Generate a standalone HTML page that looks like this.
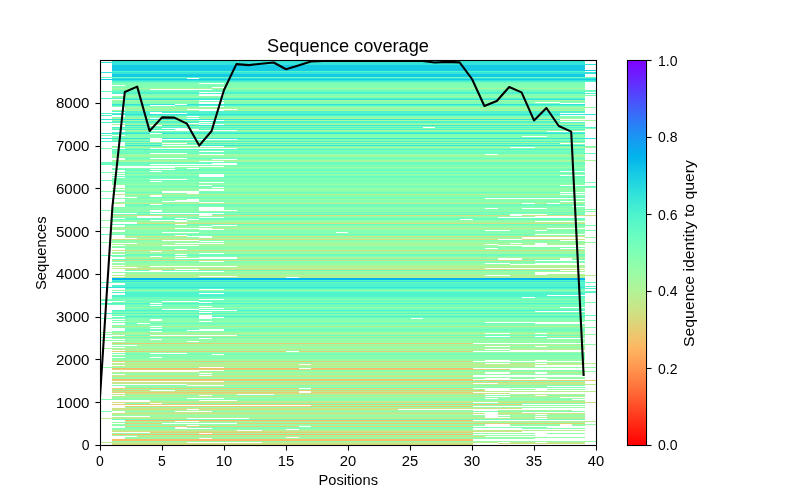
<!DOCTYPE html>
<html><head><meta charset="utf-8"><title>Sequence coverage</title>
<style>
html,body{margin:0;padding:0;background:#fff;}
body{width:800px;height:500px;overflow:hidden;}
svg{display:block;}
text{font-family:"Liberation Sans",sans-serif;fill:#000;}
</style></head><body>
<svg width="800" height="500" viewBox="0 0 800 500">
<rect x="0" y="0" width="800" height="500" fill="#fff"/>
<g shape-rendering="crispEdges">
<rect x="112" y="61" width="473" height="1" fill="#34e4d9"/>
<rect x="100" y="62" width="485" height="1" fill="#34e4d9"/>
<rect x="112" y="63" width="473" height="1" fill="#34e4d9"/>
<rect x="112" y="64" width="485" height="1" fill="#34e4d9"/>
<rect x="112" y="65" width="473" height="1" fill="#14cae5"/>
<rect x="112" y="66" width="473" height="1" fill="#14cae5"/>
<rect x="112" y="67" width="473" height="1" fill="#14cae5"/>
<rect x="112" y="68" width="473" height="1" fill="#14cae5"/>
<rect x="112" y="69" width="473" height="1" fill="#14cae5"/>
<rect x="112" y="70" width="485" height="1" fill="#14cae5"/>
<rect x="112" y="71" width="473" height="1" fill="#50f4cc"/>
<rect x="100" y="72" width="497" height="1" fill="#34e4d9"/>
<rect x="112" y="73" width="485" height="1" fill="#34e4d9"/>
<rect x="112" y="74" width="473" height="1" fill="#14cae5"/>
<rect x="112" y="75" width="473" height="1" fill="#14cae5"/>
<rect x="112" y="76" width="473" height="1" fill="#14cae5"/>
<rect x="100" y="77" width="497" height="1" fill="#6bfdc0"/>
<rect x="112" y="78" width="75" height="1" fill="#34e4d9"/>
<rect x="199" y="78" width="398" height="1" fill="#34e4d9"/>
<rect x="100" y="79" width="497" height="1" fill="#14cae5"/>
<rect x="112" y="80" width="485" height="1" fill="#34e4d9"/>
<rect x="112" y="81" width="485" height="1" fill="#50f4cc"/>
<rect x="112" y="82" width="473" height="1" fill="#6bfdc0"/>
<rect x="112" y="83" width="87" height="1" fill="#82ffb3"/>
<rect x="224" y="83" width="361" height="1" fill="#82ffb3"/>
<rect x="112" y="84" width="473" height="1" fill="#82ffb3"/>
<rect x="125" y="85" width="460" height="1" fill="#82ffb3"/>
<rect x="112" y="86" width="473" height="1" fill="#82ffb3"/>
<rect x="112" y="87" width="100" height="1" fill="#82ffb3"/>
<rect x="224" y="87" width="361" height="1" fill="#82ffb3"/>
<rect x="112" y="88" width="473" height="1" fill="#a8f79c"/>
<rect x="112" y="89" width="38" height="1" fill="#82ffb3"/>
<rect x="212" y="89" width="373" height="1" fill="#82ffb3"/>
<rect x="112" y="90" width="485" height="1" fill="#6bfdc0"/>
<rect x="100" y="91" width="497" height="1" fill="#6bfdc0"/>
<rect x="112" y="92" width="87" height="1" fill="#50f4cc"/>
<rect x="224" y="92" width="361" height="1" fill="#50f4cc"/>
<rect x="112" y="93" width="485" height="1" fill="#50f4cc"/>
<rect x="125" y="94" width="74" height="1" fill="#82ffb3"/>
<rect x="224" y="94" width="361" height="1" fill="#82ffb3"/>
<rect x="125" y="95" width="74" height="1" fill="#82ffb3"/>
<rect x="224" y="95" width="373" height="1" fill="#82ffb3"/>
<rect x="112" y="96" width="473" height="1" fill="#95fda8"/>
<rect x="112" y="97" width="473" height="1" fill="#82ffb3"/>
<rect x="100" y="98" width="485" height="1" fill="#50f4cc"/>
<rect x="125" y="99" width="460" height="1" fill="#34e4d9"/>
<rect x="112" y="100" width="87" height="1" fill="#a8f79c"/>
<rect x="224" y="100" width="361" height="1" fill="#a8f79c"/>
<rect x="112" y="101" width="473" height="1" fill="#82ffb3"/>
<rect x="112" y="102" width="87" height="1" fill="#82ffb3"/>
<rect x="224" y="102" width="311" height="1" fill="#82ffb3"/>
<rect x="560" y="102" width="25" height="1" fill="#82ffb3"/>
<rect x="112" y="103" width="87" height="1" fill="#82ffb3"/>
<rect x="224" y="103" width="336" height="1" fill="#82ffb3"/>
<rect x="112" y="104" width="63" height="1" fill="#34e4d9"/>
<rect x="187" y="104" width="398" height="1" fill="#34e4d9"/>
<rect x="112" y="105" width="38" height="1" fill="#50f4cc"/>
<rect x="175" y="105" width="410" height="1" fill="#50f4cc"/>
<rect x="112" y="106" width="87" height="1" fill="#82ffb3"/>
<rect x="224" y="106" width="361" height="1" fill="#82ffb3"/>
<rect x="125" y="107" width="472" height="1" fill="#95fda8"/>
<rect x="125" y="108" width="460" height="1" fill="#a8f79c"/>
<rect x="125" y="109" width="62" height="1" fill="#82ffb3"/>
<rect x="237" y="109" width="348" height="1" fill="#82ffb3"/>
<rect x="112" y="110" width="87" height="1" fill="#a8f79c"/>
<rect x="224" y="110" width="361" height="1" fill="#a8f79c"/>
<rect x="112" y="111" width="473" height="1" fill="#50f4cc"/>
<rect x="125" y="112" width="25" height="1" fill="#50f4cc"/>
<rect x="162" y="112" width="423" height="1" fill="#50f4cc"/>
<rect x="100" y="113" width="50" height="1" fill="#50f4cc"/>
<rect x="187" y="113" width="373" height="1" fill="#50f4cc"/>
<rect x="112" y="114" width="485" height="1" fill="#34e4d9"/>
<rect x="100" y="115" width="12" height="1" fill="#50f4cc"/>
<rect x="125" y="115" width="435" height="1" fill="#50f4cc"/>
<rect x="125" y="116" width="62" height="1" fill="#82ffb3"/>
<rect x="199" y="116" width="386" height="1" fill="#82ffb3"/>
<rect x="112" y="117" width="473" height="1" fill="#82ffb3"/>
<rect x="112" y="118" width="38" height="1" fill="#a8f79c"/>
<rect x="162" y="118" width="25" height="1" fill="#a8f79c"/>
<rect x="199" y="118" width="386" height="1" fill="#a8f79c"/>
<rect x="100" y="119" width="460" height="1" fill="#34e4d9"/>
<rect x="112" y="120" width="87" height="1" fill="#a8f79c"/>
<rect x="224" y="120" width="373" height="1" fill="#a8f79c"/>
<rect x="112" y="121" width="448" height="1" fill="#50f4cc"/>
<rect x="100" y="122" width="99" height="1" fill="#50f4cc"/>
<rect x="212" y="122" width="373" height="1" fill="#50f4cc"/>
<rect x="125" y="123" width="62" height="1" fill="#82ffb3"/>
<rect x="199" y="123" width="386" height="1" fill="#82ffb3"/>
<rect x="112" y="124" width="87" height="1" fill="#a8f79c"/>
<rect x="224" y="124" width="361" height="1" fill="#a8f79c"/>
<rect x="125" y="125" width="25" height="1" fill="#34e4d9"/>
<rect x="162" y="125" width="423" height="1" fill="#34e4d9"/>
<rect x="125" y="126" width="460" height="1" fill="#82ffb3"/>
<rect x="112" y="127" width="311" height="1" fill="#50f4cc"/>
<rect x="435" y="127" width="162" height="1" fill="#50f4cc"/>
<rect x="112" y="128" width="50" height="1" fill="#82ffb3"/>
<rect x="187" y="128" width="410" height="1" fill="#82ffb3"/>
<rect x="112" y="129" width="63" height="1" fill="#50f4cc"/>
<rect x="199" y="129" width="386" height="1" fill="#50f4cc"/>
<rect x="125" y="130" width="25" height="1" fill="#a8f79c"/>
<rect x="237" y="130" width="348" height="1" fill="#a8f79c"/>
<rect x="125" y="131" width="422" height="1" fill="#82ffb3"/>
<rect x="112" y="132" width="473" height="1" fill="#50f4cc"/>
<rect x="100" y="133" width="50" height="1" fill="#34e4d9"/>
<rect x="162" y="133" width="423" height="1" fill="#34e4d9"/>
<rect x="112" y="134" width="473" height="1" fill="#82ffb3"/>
<rect x="100" y="135" width="12" height="1" fill="#82ffb3"/>
<rect x="125" y="135" width="460" height="1" fill="#82ffb3"/>
<rect x="112" y="136" width="410" height="1" fill="#82ffb3"/>
<rect x="547" y="136" width="38" height="1" fill="#82ffb3"/>
<rect x="112" y="137" width="473" height="1" fill="#82ffb3"/>
<rect x="100" y="138" width="50" height="1" fill="#34e4d9"/>
<rect x="162" y="138" width="435" height="1" fill="#34e4d9"/>
<rect x="112" y="139" width="38" height="1" fill="#82ffb3"/>
<rect x="237" y="139" width="348" height="1" fill="#82ffb3"/>
<rect x="112" y="140" width="38" height="1" fill="#82ffb3"/>
<rect x="162" y="140" width="423" height="1" fill="#82ffb3"/>
<rect x="100" y="141" width="50" height="1" fill="#50f4cc"/>
<rect x="162" y="141" width="423" height="1" fill="#50f4cc"/>
<rect x="125" y="142" width="460" height="1" fill="#a8f79c"/>
<rect x="125" y="143" width="37" height="1" fill="#50f4cc"/>
<rect x="187" y="143" width="373" height="1" fill="#50f4cc"/>
<rect x="125" y="144" width="460" height="1" fill="#82ffb3"/>
<rect x="125" y="145" width="37" height="1" fill="#34e4d9"/>
<rect x="199" y="145" width="386" height="1" fill="#34e4d9"/>
<rect x="112" y="146" width="87" height="1" fill="#82ffb3"/>
<rect x="224" y="146" width="373" height="1" fill="#82ffb3"/>
<rect x="112" y="147" width="398" height="1" fill="#a8f79c"/>
<rect x="535" y="147" width="62" height="1" fill="#a8f79c"/>
<rect x="100" y="148" width="12" height="1" fill="#82ffb3"/>
<rect x="125" y="148" width="25" height="1" fill="#82ffb3"/>
<rect x="237" y="148" width="348" height="1" fill="#82ffb3"/>
<rect x="112" y="149" width="473" height="1" fill="#50f4cc"/>
<rect x="112" y="150" width="473" height="1" fill="#82ffb3"/>
<rect x="112" y="151" width="87" height="1" fill="#6bfdc0"/>
<rect x="224" y="151" width="361" height="1" fill="#6bfdc0"/>
<rect x="112" y="152" width="473" height="1" fill="#6bfdc0"/>
<rect x="112" y="153" width="38" height="1" fill="#6bfdc0"/>
<rect x="187" y="153" width="410" height="1" fill="#6bfdc0"/>
<rect x="112" y="154" width="87" height="1" fill="#95fda8"/>
<rect x="224" y="154" width="261" height="1" fill="#95fda8"/>
<rect x="498" y="154" width="87" height="1" fill="#95fda8"/>
<rect x="112" y="155" width="473" height="1" fill="#a8f79c"/>
<rect x="112" y="156" width="473" height="1" fill="#95fda8"/>
<rect x="112" y="157" width="473" height="1" fill="#82ffb3"/>
<rect x="125" y="158" width="25" height="1" fill="#6bfdc0"/>
<rect x="187" y="158" width="398" height="1" fill="#6bfdc0"/>
<rect x="125" y="159" width="87" height="1" fill="#82ffb3"/>
<rect x="237" y="159" width="348" height="1" fill="#82ffb3"/>
<rect x="112" y="160" width="485" height="1" fill="#a8f79c"/>
<rect x="112" y="161" width="87" height="1" fill="#a8f79c"/>
<rect x="224" y="161" width="361" height="1" fill="#a8f79c"/>
<rect x="100" y="162" width="485" height="1" fill="#6bfdc0"/>
<rect x="100" y="163" width="112" height="1" fill="#6bfdc0"/>
<rect x="237" y="163" width="348" height="1" fill="#6bfdc0"/>
<rect x="100" y="164" width="50" height="1" fill="#6bfdc0"/>
<rect x="237" y="164" width="348" height="1" fill="#6bfdc0"/>
<rect x="112" y="165" width="473" height="1" fill="#82ffb3"/>
<rect x="224" y="166" width="361" height="1" fill="#82ffb3"/>
<rect x="175" y="167" width="410" height="1" fill="#95fda8"/>
<rect x="112" y="168" width="75" height="1" fill="#82ffb3"/>
<rect x="199" y="168" width="386" height="1" fill="#82ffb3"/>
<rect x="112" y="169" width="38" height="1" fill="#6bfdc0"/>
<rect x="175" y="169" width="410" height="1" fill="#6bfdc0"/>
<rect x="125" y="170" width="460" height="1" fill="#6bfdc0"/>
<rect x="125" y="171" width="25" height="1" fill="#82ffb3"/>
<rect x="162" y="171" width="398" height="1" fill="#82ffb3"/>
<rect x="100" y="172" width="485" height="1" fill="#82ffb3"/>
<rect x="125" y="173" width="460" height="1" fill="#6bfdc0"/>
<rect x="112" y="174" width="87" height="1" fill="#95fda8"/>
<rect x="224" y="174" width="361" height="1" fill="#95fda8"/>
<rect x="125" y="175" width="74" height="1" fill="#82ffb3"/>
<rect x="224" y="175" width="336" height="1" fill="#82ffb3"/>
<rect x="112" y="176" width="87" height="1" fill="#6bfdc0"/>
<rect x="224" y="176" width="361" height="1" fill="#6bfdc0"/>
<rect x="125" y="177" width="460" height="1" fill="#6bfdc0"/>
<rect x="112" y="178" width="473" height="1" fill="#82ffb3"/>
<rect x="112" y="179" width="38" height="1" fill="#82ffb3"/>
<rect x="187" y="179" width="398" height="1" fill="#82ffb3"/>
<rect x="100" y="180" width="485" height="1" fill="#6bfdc0"/>
<rect x="112" y="181" width="38" height="1" fill="#82ffb3"/>
<rect x="162" y="181" width="423" height="1" fill="#82ffb3"/>
<rect x="112" y="182" width="87" height="1" fill="#82ffb3"/>
<rect x="224" y="182" width="373" height="1" fill="#82ffb3"/>
<rect x="112" y="183" width="473" height="1" fill="#82ffb3"/>
<rect x="112" y="184" width="473" height="1" fill="#95fda8"/>
<rect x="125" y="185" width="74" height="1" fill="#82ffb3"/>
<rect x="212" y="185" width="348" height="1" fill="#82ffb3"/>
<rect x="125" y="186" width="472" height="1" fill="#6bfdc0"/>
<rect x="125" y="187" width="87" height="1" fill="#82ffb3"/>
<rect x="224" y="187" width="373" height="1" fill="#82ffb3"/>
<rect x="112" y="188" width="473" height="1" fill="#95fda8"/>
<rect x="125" y="189" width="74" height="1" fill="#95fda8"/>
<rect x="224" y="189" width="361" height="1" fill="#95fda8"/>
<rect x="112" y="190" width="87" height="1" fill="#95fda8"/>
<rect x="224" y="190" width="361" height="1" fill="#95fda8"/>
<rect x="100" y="191" width="62" height="1" fill="#82ffb3"/>
<rect x="199" y="191" width="386" height="1" fill="#82ffb3"/>
<rect x="125" y="192" width="37" height="1" fill="#6bfdc0"/>
<rect x="199" y="192" width="361" height="1" fill="#6bfdc0"/>
<rect x="125" y="193" width="62" height="1" fill="#82ffb3"/>
<rect x="199" y="193" width="386" height="1" fill="#82ffb3"/>
<rect x="112" y="194" width="448" height="1" fill="#bbee91"/>
<rect x="125" y="195" width="25" height="1" fill="#82ffb3"/>
<rect x="162" y="195" width="423" height="1" fill="#82ffb3"/>
<rect x="125" y="196" width="25" height="1" fill="#95fda8"/>
<rect x="162" y="196" width="423" height="1" fill="#95fda8"/>
<rect x="137" y="197" width="448" height="1" fill="#6bfdc0"/>
<rect x="100" y="198" width="385" height="1" fill="#82ffb3"/>
<rect x="125" y="199" width="62" height="1" fill="#95fda8"/>
<rect x="199" y="199" width="386" height="1" fill="#95fda8"/>
<rect x="125" y="200" width="50" height="1" fill="#82ffb3"/>
<rect x="199" y="200" width="386" height="1" fill="#82ffb3"/>
<rect x="125" y="201" width="37" height="1" fill="#82ffb3"/>
<rect x="199" y="201" width="361" height="1" fill="#82ffb3"/>
<rect x="112" y="202" width="87" height="1" fill="#95fda8"/>
<rect x="224" y="202" width="361" height="1" fill="#95fda8"/>
<rect x="112" y="203" width="410" height="1" fill="#bbee91"/>
<rect x="535" y="203" width="12" height="1" fill="#bbee91"/>
<rect x="560" y="203" width="25" height="1" fill="#bbee91"/>
<rect x="125" y="204" width="25" height="1" fill="#6bfdc0"/>
<rect x="162" y="204" width="423" height="1" fill="#6bfdc0"/>
<rect x="125" y="205" width="460" height="1" fill="#6bfdc0"/>
<rect x="125" y="206" width="447" height="1" fill="#82ffb3"/>
<rect x="112" y="207" width="87" height="1" fill="#82ffb3"/>
<rect x="224" y="207" width="361" height="1" fill="#82ffb3"/>
<rect x="112" y="208" width="87" height="1" fill="#95fda8"/>
<rect x="224" y="208" width="261" height="1" fill="#95fda8"/>
<rect x="498" y="208" width="24" height="1" fill="#95fda8"/>
<rect x="547" y="208" width="38" height="1" fill="#95fda8"/>
<rect x="112" y="209" width="87" height="1" fill="#82ffb3"/>
<rect x="224" y="209" width="373" height="1" fill="#82ffb3"/>
<rect x="100" y="210" width="50" height="1" fill="#82ffb3"/>
<rect x="162" y="210" width="37" height="1" fill="#82ffb3"/>
<rect x="237" y="210" width="348" height="1" fill="#82ffb3"/>
<rect x="112" y="211" width="38" height="1" fill="#95fda8"/>
<rect x="162" y="211" width="435" height="1" fill="#95fda8"/>
<rect x="112" y="212" width="473" height="1" fill="#6bfdc0"/>
<rect x="137" y="213" width="13" height="1" fill="#82ffb3"/>
<rect x="224" y="213" width="361" height="1" fill="#82ffb3"/>
<rect x="112" y="214" width="87" height="1" fill="#6bfdc0"/>
<rect x="212" y="214" width="298" height="1" fill="#6bfdc0"/>
<rect x="547" y="214" width="38" height="1" fill="#6bfdc0"/>
<rect x="112" y="215" width="87" height="1" fill="#d0e082"/>
<rect x="212" y="215" width="298" height="1" fill="#d0e082"/>
<rect x="522" y="215" width="75" height="1" fill="#d0e082"/>
<rect x="112" y="216" width="25" height="1" fill="#95fda8"/>
<rect x="162" y="216" width="373" height="1" fill="#95fda8"/>
<rect x="112" y="217" width="25" height="1" fill="#82ffb3"/>
<rect x="162" y="217" width="37" height="1" fill="#82ffb3"/>
<rect x="224" y="217" width="274" height="1" fill="#82ffb3"/>
<rect x="125" y="218" width="50" height="1" fill="#6bfdc0"/>
<rect x="187" y="218" width="398" height="1" fill="#6bfdc0"/>
<rect x="112" y="219" width="75" height="1" fill="#6bfdc0"/>
<rect x="199" y="219" width="261" height="1" fill="#6bfdc0"/>
<rect x="473" y="219" width="112" height="1" fill="#6bfdc0"/>
<rect x="100" y="220" width="50" height="1" fill="#95fda8"/>
<rect x="187" y="220" width="398" height="1" fill="#95fda8"/>
<rect x="112" y="221" width="63" height="1" fill="#95fda8"/>
<rect x="187" y="221" width="348" height="1" fill="#95fda8"/>
<rect x="137" y="222" width="448" height="1" fill="#a8f79c"/>
<rect x="137" y="223" width="448" height="1" fill="#d0e082"/>
<rect x="112" y="224" width="63" height="1" fill="#6bfdc0"/>
<rect x="187" y="224" width="398" height="1" fill="#6bfdc0"/>
<rect x="125" y="225" width="87" height="1" fill="#82ffb3"/>
<rect x="237" y="225" width="360" height="1" fill="#82ffb3"/>
<rect x="125" y="226" width="74" height="1" fill="#95fda8"/>
<rect x="212" y="226" width="373" height="1" fill="#95fda8"/>
<rect x="100" y="227" width="485" height="1" fill="#95fda8"/>
<rect x="112" y="228" width="63" height="1" fill="#bbee91"/>
<rect x="212" y="228" width="335" height="1" fill="#bbee91"/>
<rect x="112" y="229" width="87" height="1" fill="#95fda8"/>
<rect x="224" y="229" width="361" height="1" fill="#95fda8"/>
<rect x="125" y="230" width="360" height="1" fill="#82ffb3"/>
<rect x="510" y="230" width="25" height="1" fill="#82ffb3"/>
<rect x="547" y="230" width="50" height="1" fill="#82ffb3"/>
<rect x="125" y="231" width="460" height="1" fill="#82ffb3"/>
<rect x="112" y="232" width="50" height="1" fill="#82ffb3"/>
<rect x="199" y="232" width="137" height="1" fill="#82ffb3"/>
<rect x="348" y="232" width="237" height="1" fill="#82ffb3"/>
<rect x="112" y="233" width="473" height="1" fill="#95fda8"/>
<rect x="100" y="234" width="435" height="1" fill="#6bfdc0"/>
<rect x="125" y="235" width="50" height="1" fill="#82ffb3"/>
<rect x="187" y="235" width="398" height="1" fill="#82ffb3"/>
<rect x="125" y="236" width="62" height="1" fill="#d0e082"/>
<rect x="212" y="236" width="373" height="1" fill="#d0e082"/>
<rect x="125" y="237" width="74" height="1" fill="#95fda8"/>
<rect x="212" y="237" width="310" height="1" fill="#95fda8"/>
<rect x="585" y="237" width="12" height="1" fill="#95fda8"/>
<rect x="137" y="238" width="385" height="1" fill="#a8f79c"/>
<rect x="112" y="239" width="386" height="1" fill="#d0e082"/>
<rect x="522" y="239" width="63" height="1" fill="#d0e082"/>
<rect x="112" y="240" width="50" height="1" fill="#82ffb3"/>
<rect x="199" y="240" width="361" height="1" fill="#82ffb3"/>
<rect x="112" y="241" width="87" height="1" fill="#95fda8"/>
<rect x="224" y="241" width="361" height="1" fill="#95fda8"/>
<rect x="100" y="242" width="497" height="1" fill="#95fda8"/>
<rect x="137" y="243" width="38" height="1" fill="#a8f79c"/>
<rect x="224" y="243" width="286" height="1" fill="#a8f79c"/>
<rect x="522" y="243" width="13" height="1" fill="#a8f79c"/>
<rect x="547" y="243" width="38" height="1" fill="#a8f79c"/>
<rect x="112" y="244" width="373" height="1" fill="#a8f79c"/>
<rect x="498" y="244" width="37" height="1" fill="#a8f79c"/>
<rect x="547" y="244" width="38" height="1" fill="#a8f79c"/>
<rect x="125" y="245" width="37" height="1" fill="#a8f79c"/>
<rect x="199" y="245" width="299" height="1" fill="#a8f79c"/>
<rect x="112" y="246" width="410" height="1" fill="#95fda8"/>
<rect x="112" y="247" width="473" height="1" fill="#82ffb3"/>
<rect x="125" y="248" width="360" height="1" fill="#82ffb3"/>
<rect x="498" y="248" width="62" height="1" fill="#82ffb3"/>
<rect x="125" y="249" width="50" height="1" fill="#95fda8"/>
<rect x="187" y="249" width="398" height="1" fill="#95fda8"/>
<rect x="112" y="250" width="473" height="1" fill="#d0e082"/>
<rect x="125" y="251" width="25" height="1" fill="#95fda8"/>
<rect x="162" y="251" width="423" height="1" fill="#95fda8"/>
<rect x="112" y="252" width="473" height="1" fill="#95fda8"/>
<rect x="112" y="253" width="87" height="1" fill="#a8f79c"/>
<rect x="224" y="253" width="361" height="1" fill="#a8f79c"/>
<rect x="125" y="254" width="50" height="1" fill="#6bfdc0"/>
<rect x="187" y="254" width="398" height="1" fill="#6bfdc0"/>
<rect x="100" y="255" width="485" height="1" fill="#6bfdc0"/>
<rect x="112" y="256" width="38" height="1" fill="#82ffb3"/>
<rect x="162" y="256" width="13" height="1" fill="#82ffb3"/>
<rect x="187" y="256" width="398" height="1" fill="#82ffb3"/>
<rect x="125" y="257" width="74" height="1" fill="#a8f79c"/>
<rect x="237" y="257" width="348" height="1" fill="#a8f79c"/>
<rect x="125" y="258" width="50" height="1" fill="#bbee91"/>
<rect x="237" y="258" width="261" height="1" fill="#bbee91"/>
<rect x="522" y="258" width="38" height="1" fill="#bbee91"/>
<rect x="572" y="258" width="13" height="1" fill="#bbee91"/>
<rect x="112" y="259" width="386" height="1" fill="#6bfdc0"/>
<rect x="522" y="259" width="38" height="1" fill="#6bfdc0"/>
<rect x="572" y="259" width="13" height="1" fill="#6bfdc0"/>
<rect x="112" y="260" width="423" height="1" fill="#d0e082"/>
<rect x="112" y="261" width="87" height="1" fill="#82ffb3"/>
<rect x="224" y="261" width="361" height="1" fill="#82ffb3"/>
<rect x="125" y="262" width="460" height="1" fill="#82ffb3"/>
<rect x="112" y="263" width="373" height="1" fill="#95fda8"/>
<rect x="510" y="263" width="25" height="1" fill="#95fda8"/>
<rect x="112" y="264" width="398" height="1" fill="#95fda8"/>
<rect x="125" y="265" width="460" height="1" fill="#a8f79c"/>
<rect x="112" y="266" width="38" height="1" fill="#bbee91"/>
<rect x="237" y="266" width="348" height="1" fill="#bbee91"/>
<rect x="137" y="267" width="448" height="1" fill="#a8f79c"/>
<rect x="112" y="268" width="373" height="1" fill="#bbee91"/>
<rect x="125" y="269" width="50" height="1" fill="#d0e082"/>
<rect x="199" y="269" width="386" height="1" fill="#d0e082"/>
<rect x="125" y="270" width="25" height="1" fill="#6bfdc0"/>
<rect x="162" y="270" width="398" height="1" fill="#6bfdc0"/>
<rect x="224" y="271" width="361" height="1" fill="#a8f79c"/>
<rect x="112" y="272" width="423" height="1" fill="#95fda8"/>
<rect x="125" y="273" width="410" height="1" fill="#95fda8"/>
<rect x="125" y="274" width="410" height="1" fill="#a8f79c"/>
<rect x="547" y="274" width="38" height="1" fill="#a8f79c"/>
<rect x="112" y="275" width="373" height="1" fill="#bbee91"/>
<rect x="510" y="275" width="87" height="1" fill="#bbee91"/>
<rect x="125" y="276" width="74" height="1" fill="#a8f79c"/>
<rect x="237" y="276" width="348" height="1" fill="#a8f79c"/>
<rect x="112" y="277" width="174" height="1" fill="#bbee91"/>
<rect x="299" y="277" width="286" height="1" fill="#bbee91"/>
<rect x="112" y="278" width="473" height="1" fill="#01b3ec"/>
<rect x="112" y="279" width="473" height="1" fill="#01b3ec"/>
<rect x="112" y="280" width="473" height="1" fill="#50f4cc"/>
<rect x="112" y="281" width="473" height="1" fill="#34e4d9"/>
<rect x="100" y="282" width="497" height="1" fill="#6bfdc0"/>
<rect x="125" y="283" width="460" height="1" fill="#50f4cc"/>
<rect x="125" y="284" width="460" height="1" fill="#50f4cc"/>
<rect x="112" y="285" width="473" height="1" fill="#50f4cc"/>
<rect x="112" y="286" width="485" height="1" fill="#50f4cc"/>
<rect x="100" y="287" width="485" height="1" fill="#34e4d9"/>
<rect x="125" y="288" width="472" height="1" fill="#50f4cc"/>
<rect x="125" y="289" width="74" height="1" fill="#6bfdc0"/>
<rect x="224" y="289" width="361" height="1" fill="#6bfdc0"/>
<rect x="112" y="290" width="473" height="1" fill="#95fda8"/>
<rect x="125" y="291" width="472" height="1" fill="#6bfdc0"/>
<rect x="112" y="292" width="485" height="1" fill="#50f4cc"/>
<rect x="125" y="293" width="74" height="1" fill="#50f4cc"/>
<rect x="224" y="293" width="361" height="1" fill="#50f4cc"/>
<rect x="125" y="294" width="460" height="1" fill="#50f4cc"/>
<rect x="112" y="295" width="435" height="1" fill="#50f4cc"/>
<rect x="112" y="296" width="473" height="1" fill="#50f4cc"/>
<rect x="112" y="297" width="410" height="1" fill="#6bfdc0"/>
<rect x="535" y="297" width="50" height="1" fill="#6bfdc0"/>
<rect x="112" y="298" width="473" height="1" fill="#6bfdc0"/>
<rect x="100" y="299" width="99" height="1" fill="#82ffb3"/>
<rect x="224" y="299" width="361" height="1" fill="#82ffb3"/>
<rect x="100" y="300" width="485" height="1" fill="#6bfdc0"/>
<rect x="125" y="301" width="37" height="1" fill="#6bfdc0"/>
<rect x="199" y="301" width="386" height="1" fill="#6bfdc0"/>
<rect x="112" y="302" width="87" height="1" fill="#82ffb3"/>
<rect x="212" y="302" width="385" height="1" fill="#82ffb3"/>
<rect x="100" y="303" width="50" height="1" fill="#50f4cc"/>
<rect x="162" y="303" width="423" height="1" fill="#50f4cc"/>
<rect x="100" y="304" width="485" height="1" fill="#6bfdc0"/>
<rect x="125" y="305" width="25" height="1" fill="#82ffb3"/>
<rect x="162" y="305" width="423" height="1" fill="#82ffb3"/>
<rect x="125" y="306" width="74" height="1" fill="#6bfdc0"/>
<rect x="212" y="306" width="373" height="1" fill="#6bfdc0"/>
<rect x="125" y="307" width="435" height="1" fill="#95fda8"/>
<rect x="125" y="308" width="74" height="1" fill="#82ffb3"/>
<rect x="224" y="308" width="361" height="1" fill="#82ffb3"/>
<rect x="125" y="309" width="37" height="1" fill="#6bfdc0"/>
<rect x="199" y="309" width="386" height="1" fill="#6bfdc0"/>
<rect x="112" y="310" width="87" height="1" fill="#50f4cc"/>
<rect x="237" y="310" width="348" height="1" fill="#50f4cc"/>
<rect x="112" y="311" width="423" height="1" fill="#6bfdc0"/>
<rect x="112" y="312" width="87" height="1" fill="#82ffb3"/>
<rect x="212" y="312" width="373" height="1" fill="#82ffb3"/>
<rect x="100" y="313" width="485" height="1" fill="#50f4cc"/>
<rect x="112" y="314" width="473" height="1" fill="#95fda8"/>
<rect x="112" y="315" width="87" height="1" fill="#6bfdc0"/>
<rect x="212" y="315" width="385" height="1" fill="#6bfdc0"/>
<rect x="125" y="316" width="74" height="1" fill="#50f4cc"/>
<rect x="212" y="316" width="373" height="1" fill="#50f4cc"/>
<rect x="112" y="317" width="87" height="1" fill="#6bfdc0"/>
<rect x="224" y="317" width="361" height="1" fill="#6bfdc0"/>
<rect x="100" y="318" width="99" height="1" fill="#82ffb3"/>
<rect x="212" y="318" width="199" height="1" fill="#82ffb3"/>
<rect x="423" y="318" width="162" height="1" fill="#82ffb3"/>
<rect x="125" y="319" width="25" height="1" fill="#82ffb3"/>
<rect x="162" y="319" width="423" height="1" fill="#82ffb3"/>
<rect x="112" y="320" width="38" height="1" fill="#82ffb3"/>
<rect x="162" y="320" width="435" height="1" fill="#82ffb3"/>
<rect x="125" y="321" width="74" height="1" fill="#95fda8"/>
<rect x="212" y="321" width="373" height="1" fill="#95fda8"/>
<rect x="112" y="322" width="373" height="1" fill="#82ffb3"/>
<rect x="125" y="323" width="12" height="1" fill="#6bfdc0"/>
<rect x="150" y="323" width="385" height="1" fill="#6bfdc0"/>
<rect x="125" y="324" width="460" height="1" fill="#82ffb3"/>
<rect x="112" y="325" width="473" height="1" fill="#82ffb3"/>
<rect x="112" y="326" width="38" height="1" fill="#bbee91"/>
<rect x="162" y="326" width="423" height="1" fill="#bbee91"/>
<rect x="112" y="327" width="485" height="1" fill="#82ffb3"/>
<rect x="125" y="328" width="25" height="1" fill="#82ffb3"/>
<rect x="162" y="328" width="423" height="1" fill="#82ffb3"/>
<rect x="125" y="329" width="74" height="1" fill="#6bfdc0"/>
<rect x="224" y="329" width="361" height="1" fill="#6bfdc0"/>
<rect x="125" y="330" width="62" height="1" fill="#6bfdc0"/>
<rect x="224" y="330" width="361" height="1" fill="#6bfdc0"/>
<rect x="112" y="331" width="38" height="1" fill="#82ffb3"/>
<rect x="162" y="331" width="423" height="1" fill="#82ffb3"/>
<rect x="100" y="332" width="485" height="1" fill="#95fda8"/>
<rect x="112" y="333" width="373" height="1" fill="#bbee91"/>
<rect x="510" y="333" width="25" height="1" fill="#bbee91"/>
<rect x="547" y="333" width="38" height="1" fill="#bbee91"/>
<rect x="100" y="334" width="497" height="1" fill="#95fda8"/>
<rect x="125" y="335" width="25" height="1" fill="#6bfdc0"/>
<rect x="237" y="335" width="348" height="1" fill="#6bfdc0"/>
<rect x="112" y="336" width="373" height="1" fill="#bbee91"/>
<rect x="510" y="336" width="25" height="1" fill="#bbee91"/>
<rect x="547" y="336" width="38" height="1" fill="#bbee91"/>
<rect x="100" y="337" width="485" height="1" fill="#6bfdc0"/>
<rect x="112" y="338" width="87" height="1" fill="#95fda8"/>
<rect x="212" y="338" width="335" height="1" fill="#95fda8"/>
<rect x="125" y="339" width="25" height="1" fill="#95fda8"/>
<rect x="162" y="339" width="423" height="1" fill="#95fda8"/>
<rect x="100" y="340" width="485" height="1" fill="#95fda8"/>
<rect x="125" y="341" width="62" height="1" fill="#95fda8"/>
<rect x="199" y="341" width="386" height="1" fill="#95fda8"/>
<rect x="112" y="342" width="473" height="1" fill="#95fda8"/>
<rect x="112" y="343" width="361" height="1" fill="#e6cd73"/>
<rect x="112" y="344" width="485" height="1" fill="#95fda8"/>
<rect x="137" y="345" width="448" height="1" fill="#bbee91"/>
<rect x="112" y="346" width="373" height="1" fill="#95fda8"/>
<rect x="510" y="346" width="25" height="1" fill="#95fda8"/>
<rect x="547" y="346" width="38" height="1" fill="#95fda8"/>
<rect x="125" y="347" width="460" height="1" fill="#95fda8"/>
<rect x="100" y="348" width="485" height="1" fill="#a8f79c"/>
<rect x="112" y="349" width="373" height="1" fill="#bbee91"/>
<rect x="510" y="349" width="75" height="1" fill="#bbee91"/>
<rect x="125" y="350" width="385" height="1" fill="#95fda8"/>
<rect x="112" y="351" width="174" height="1" fill="#e6cd73"/>
<rect x="299" y="351" width="174" height="1" fill="#e6cd73"/>
<rect x="125" y="352" width="460" height="1" fill="#95fda8"/>
<rect x="112" y="353" width="38" height="1" fill="#82ffb3"/>
<rect x="187" y="353" width="398" height="1" fill="#82ffb3"/>
<rect x="125" y="354" width="87" height="1" fill="#6bfdc0"/>
<rect x="224" y="354" width="361" height="1" fill="#6bfdc0"/>
<rect x="112" y="355" width="473" height="1" fill="#95fda8"/>
<rect x="112" y="356" width="473" height="1" fill="#82ffb3"/>
<rect x="125" y="357" width="25" height="1" fill="#82ffb3"/>
<rect x="162" y="357" width="423" height="1" fill="#82ffb3"/>
<rect x="112" y="358" width="473" height="1" fill="#82ffb3"/>
<rect x="112" y="359" width="473" height="1" fill="#95fda8"/>
<rect x="112" y="360" width="373" height="1" fill="#95fda8"/>
<rect x="510" y="360" width="25" height="1" fill="#95fda8"/>
<rect x="547" y="360" width="38" height="1" fill="#95fda8"/>
<rect x="112" y="361" width="361" height="1" fill="#e6cd73"/>
<rect x="125" y="362" width="460" height="1" fill="#95fda8"/>
<rect x="112" y="363" width="373" height="1" fill="#bbee91"/>
<rect x="510" y="363" width="25" height="1" fill="#bbee91"/>
<rect x="547" y="363" width="50" height="1" fill="#bbee91"/>
<rect x="112" y="364" width="187" height="1" fill="#bbee91"/>
<rect x="311" y="364" width="274" height="1" fill="#bbee91"/>
<rect x="125" y="365" width="410" height="1" fill="#bbee91"/>
<rect x="112" y="366" width="423" height="1" fill="#bbee91"/>
<rect x="100" y="367" width="99" height="1" fill="#95fda8"/>
<rect x="224" y="367" width="373" height="1" fill="#95fda8"/>
<rect x="112" y="368" width="187" height="1" fill="#fbb965"/>
<rect x="311" y="368" width="162" height="1" fill="#fbb965"/>
<rect x="112" y="369" width="398" height="1" fill="#e6cd73"/>
<rect x="224" y="370" width="361" height="1" fill="#82ffb3"/>
<rect x="199" y="371" width="398" height="1" fill="#95fda8"/>
<rect x="112" y="372" width="373" height="1" fill="#bbee91"/>
<rect x="510" y="372" width="25" height="1" fill="#bbee91"/>
<rect x="547" y="372" width="38" height="1" fill="#bbee91"/>
<rect x="112" y="373" width="87" height="1" fill="#95fda8"/>
<rect x="212" y="373" width="273" height="1" fill="#95fda8"/>
<rect x="510" y="373" width="25" height="1" fill="#95fda8"/>
<rect x="547" y="373" width="38" height="1" fill="#95fda8"/>
<rect x="125" y="374" width="460" height="1" fill="#95fda8"/>
<rect x="112" y="375" width="87" height="1" fill="#bbee91"/>
<rect x="212" y="375" width="261" height="1" fill="#bbee91"/>
<rect x="112" y="376" width="361" height="1" fill="#d0e082"/>
<rect x="112" y="377" width="473" height="1" fill="#95fda8"/>
<rect x="112" y="378" width="373" height="1" fill="#95fda8"/>
<rect x="510" y="378" width="25" height="1" fill="#95fda8"/>
<rect x="547" y="378" width="38" height="1" fill="#95fda8"/>
<rect x="112" y="379" width="361" height="1" fill="#fbb965"/>
<rect x="112" y="380" width="485" height="1" fill="#e6cd73"/>
<rect x="224" y="381" width="361" height="1" fill="#82ffb3"/>
<rect x="112" y="382" width="473" height="1" fill="#d0e082"/>
<rect x="112" y="383" width="361" height="1" fill="#bbee91"/>
<rect x="498" y="383" width="87" height="1" fill="#bbee91"/>
<rect x="187" y="384" width="410" height="1" fill="#bbee91"/>
<rect x="112" y="385" width="75" height="1" fill="#82ffb3"/>
<rect x="224" y="385" width="361" height="1" fill="#82ffb3"/>
<rect x="125" y="386" width="422" height="1" fill="#a8f79c"/>
<rect x="125" y="387" width="460" height="1" fill="#82ffb3"/>
<rect x="112" y="388" width="187" height="1" fill="#e6cd73"/>
<rect x="311" y="388" width="162" height="1" fill="#e6cd73"/>
<rect x="112" y="389" width="373" height="1" fill="#95fda8"/>
<rect x="510" y="389" width="25" height="1" fill="#95fda8"/>
<rect x="547" y="389" width="38" height="1" fill="#95fda8"/>
<rect x="112" y="390" width="38" height="1" fill="#e6cd73"/>
<rect x="175" y="390" width="310" height="1" fill="#e6cd73"/>
<rect x="112" y="391" width="187" height="1" fill="#bbee91"/>
<rect x="311" y="391" width="286" height="1" fill="#bbee91"/>
<rect x="112" y="392" width="187" height="1" fill="#e6cd73"/>
<rect x="311" y="392" width="162" height="1" fill="#e6cd73"/>
<rect x="125" y="393" width="385" height="1" fill="#d0e082"/>
<rect x="112" y="394" width="125" height="1" fill="#bbee91"/>
<rect x="274" y="394" width="211" height="1" fill="#bbee91"/>
<rect x="510" y="394" width="75" height="1" fill="#bbee91"/>
<rect x="125" y="395" width="74" height="1" fill="#82ffb3"/>
<rect x="212" y="395" width="323" height="1" fill="#82ffb3"/>
<rect x="547" y="395" width="38" height="1" fill="#82ffb3"/>
<rect x="112" y="396" width="373" height="1" fill="#bbee91"/>
<rect x="510" y="396" width="75" height="1" fill="#bbee91"/>
<rect x="112" y="397" width="448" height="1" fill="#95fda8"/>
<rect x="112" y="398" width="75" height="1" fill="#95fda8"/>
<rect x="224" y="398" width="261" height="1" fill="#95fda8"/>
<rect x="498" y="398" width="87" height="1" fill="#95fda8"/>
<rect x="100" y="399" width="472" height="1" fill="#82ffb3"/>
<rect x="150" y="400" width="49" height="1" fill="#95fda8"/>
<rect x="237" y="400" width="348" height="1" fill="#95fda8"/>
<rect x="150" y="401" width="435" height="1" fill="#bbee91"/>
<rect x="112" y="402" width="361" height="1" fill="#d0e082"/>
<rect x="498" y="402" width="99" height="1" fill="#d0e082"/>
<rect x="125" y="403" width="25" height="1" fill="#82ffb3"/>
<rect x="162" y="403" width="423" height="1" fill="#82ffb3"/>
<rect x="112" y="404" width="410" height="1" fill="#e6cd73"/>
<rect x="311" y="405" width="274" height="1" fill="#95fda8"/>
<rect x="125" y="406" width="348" height="1" fill="#e6cd73"/>
<rect x="125" y="407" width="460" height="1" fill="#95fda8"/>
<rect x="112" y="408" width="410" height="1" fill="#d0e082"/>
<rect x="112" y="409" width="75" height="1" fill="#d0e082"/>
<rect x="199" y="409" width="199" height="1" fill="#d0e082"/>
<rect x="112" y="410" width="361" height="1" fill="#a8f79c"/>
<rect x="498" y="410" width="74" height="1" fill="#a8f79c"/>
<rect x="100" y="411" width="12" height="1" fill="#82ffb3"/>
<rect x="125" y="411" width="50" height="1" fill="#82ffb3"/>
<rect x="212" y="411" width="373" height="1" fill="#82ffb3"/>
<rect x="125" y="412" width="348" height="1" fill="#bbee91"/>
<rect x="498" y="412" width="24" height="1" fill="#bbee91"/>
<rect x="112" y="413" width="373" height="1" fill="#d0e082"/>
<rect x="498" y="413" width="87" height="1" fill="#d0e082"/>
<rect x="112" y="414" width="361" height="1" fill="#a8f79c"/>
<rect x="498" y="414" width="37" height="1" fill="#a8f79c"/>
<rect x="547" y="414" width="38" height="1" fill="#a8f79c"/>
<rect x="112" y="415" width="373" height="1" fill="#95fda8"/>
<rect x="510" y="415" width="75" height="1" fill="#95fda8"/>
<rect x="150" y="416" width="335" height="1" fill="#95fda8"/>
<rect x="498" y="416" width="37" height="1" fill="#95fda8"/>
<rect x="547" y="416" width="38" height="1" fill="#95fda8"/>
<rect x="112" y="417" width="373" height="1" fill="#bbee91"/>
<rect x="510" y="417" width="75" height="1" fill="#bbee91"/>
<rect x="100" y="418" width="87" height="1" fill="#bbee91"/>
<rect x="249" y="418" width="286" height="1" fill="#bbee91"/>
<rect x="547" y="418" width="38" height="1" fill="#bbee91"/>
<rect x="112" y="419" width="473" height="1" fill="#6bfdc0"/>
<rect x="125" y="420" width="348" height="1" fill="#fbb965"/>
<rect x="125" y="421" width="50" height="1" fill="#bbee91"/>
<rect x="199" y="421" width="398" height="1" fill="#bbee91"/>
<rect x="112" y="422" width="473" height="1" fill="#95fda8"/>
<rect x="125" y="423" width="37" height="1" fill="#e6cd73"/>
<rect x="237" y="423" width="348" height="1" fill="#e6cd73"/>
<rect x="112" y="424" width="373" height="1" fill="#95fda8"/>
<rect x="510" y="424" width="50" height="1" fill="#95fda8"/>
<rect x="572" y="424" width="25" height="1" fill="#95fda8"/>
<rect x="112" y="425" width="75" height="1" fill="#95fda8"/>
<rect x="199" y="425" width="286" height="1" fill="#95fda8"/>
<rect x="510" y="425" width="50" height="1" fill="#95fda8"/>
<rect x="572" y="425" width="13" height="1" fill="#95fda8"/>
<rect x="125" y="426" width="174" height="1" fill="#e6cd73"/>
<rect x="311" y="426" width="162" height="1" fill="#e6cd73"/>
<rect x="125" y="427" width="50" height="1" fill="#82ffb3"/>
<rect x="187" y="427" width="360" height="1" fill="#82ffb3"/>
<rect x="112" y="428" width="63" height="1" fill="#82ffb3"/>
<rect x="212" y="428" width="261" height="1" fill="#82ffb3"/>
<rect x="522" y="428" width="63" height="1" fill="#82ffb3"/>
<rect x="112" y="429" width="174" height="1" fill="#95fda8"/>
<rect x="299" y="429" width="174" height="1" fill="#95fda8"/>
<rect x="112" y="430" width="125" height="1" fill="#bbee91"/>
<rect x="262" y="430" width="323" height="1" fill="#bbee91"/>
<rect x="112" y="431" width="410" height="1" fill="#d0e082"/>
<rect x="150" y="432" width="323" height="1" fill="#e6cd73"/>
<rect x="112" y="433" width="87" height="1" fill="#95fda8"/>
<rect x="212" y="433" width="323" height="1" fill="#95fda8"/>
<rect x="547" y="433" width="38" height="1" fill="#95fda8"/>
<rect x="112" y="434" width="361" height="1" fill="#fbb965"/>
<rect x="112" y="435" width="423" height="1" fill="#95fda8"/>
<rect x="137" y="436" width="348" height="1" fill="#d0e082"/>
<rect x="125" y="437" width="161" height="1" fill="#95fda8"/>
<rect x="299" y="437" width="286" height="1" fill="#95fda8"/>
<rect x="125" y="438" width="74" height="1" fill="#95fda8"/>
<rect x="212" y="438" width="323" height="1" fill="#95fda8"/>
<rect x="112" y="439" width="361" height="1" fill="#fbb965"/>
<rect x="112" y="440" width="361" height="1" fill="#fbb965"/>
<rect x="112" y="441" width="485" height="1" fill="#95fda8"/>
<rect x="100" y="442" width="87" height="1" fill="#bbee91"/>
<rect x="262" y="442" width="236" height="1" fill="#bbee91"/>
<rect x="510" y="442" width="25" height="1" fill="#bbee91"/>
<rect x="547" y="442" width="38" height="1" fill="#bbee91"/>
<rect x="112" y="443" width="361" height="1" fill="#d0e082"/>
<rect x="498" y="443" width="87" height="1" fill="#d0e082"/>
<rect x="112" y="444" width="361" height="1" fill="#d0e082"/>
</g>
<clipPath id="ax"><rect x="100" y="60" width="497" height="386"/></clipPath>
<polyline clip-path="url(#ax)" points="100.00,397.00 112.40,207.00 124.80,92.00 137.20,86.60 149.60,131.00 162.00,117.40 174.40,117.60 186.80,123.60 199.20,145.60 211.60,131.00 224.00,90.00 236.40,64.10 248.80,65.10 261.20,63.75 273.60,62.50 286.00,69.25 298.40,65.40 310.80,61.40 323.20,61.00 335.60,61.00 348.00,61.00 360.40,61.00 372.80,61.00 385.20,61.00 397.60,61.00 410.00,61.00 422.40,61.00 434.80,62.50 447.20,61.90 459.60,62.40 472.00,79.00 484.40,106.00 496.80,101.00 509.20,87.00 521.60,92.40 534.00,120.40 546.40,108.00 558.80,126.00 571.20,131.60 583.60,375.00" fill="none" stroke="#000" stroke-width="2.08" stroke-linejoin="round" stroke-linecap="square"/>
<defs><linearGradient id="cb" x1="0" y1="0" x2="0" y2="1">
<stop offset="0.000" stop-color="#8000ff"/>
<stop offset="0.050" stop-color="#6726fe"/>
<stop offset="0.100" stop-color="#4e4dfc"/>
<stop offset="0.150" stop-color="#3373f8"/>
<stop offset="0.200" stop-color="#1a96f3"/>
<stop offset="0.250" stop-color="#01b3ec"/>
<stop offset="0.300" stop-color="#19cde4"/>
<stop offset="0.350" stop-color="#32e3da"/>
<stop offset="0.400" stop-color="#4df3ce"/>
<stop offset="0.450" stop-color="#66fcc2"/>
<stop offset="0.500" stop-color="#7effb5"/>
<stop offset="0.550" stop-color="#99fca6"/>
<stop offset="0.600" stop-color="#b2f396"/>
<stop offset="0.650" stop-color="#cce385"/>
<stop offset="0.700" stop-color="#e6cd73"/>
<stop offset="0.750" stop-color="#feb562"/>
<stop offset="0.800" stop-color="#ff964f"/>
<stop offset="0.850" stop-color="#ff733b"/>
<stop offset="0.900" stop-color="#ff4d27"/>
<stop offset="0.950" stop-color="#ff2613"/>
<stop offset="1.000" stop-color="#ff0000"/>
</linearGradient></defs>
<rect x="627" y="60" width="19" height="385" fill="url(#cb)" shape-rendering="crispEdges"/>
<g shape-rendering="crispEdges" fill="#000" fill-opacity="0.055">
<rect x="99" y="59" width="499" height="1"/><rect x="99" y="446" width="499" height="1"/>
<rect x="99" y="60" width="1" height="386"/><rect x="597" y="60" width="1" height="386"/>
<rect x="101" y="61" width="495" height="1"/><rect x="101" y="444" width="495" height="1"/>
<rect x="101" y="62" width="1" height="382"/><rect x="595" y="62" width="1" height="382"/>
<rect x="626" y="59" width="22" height="1"/><rect x="626" y="446" width="22" height="1"/>
<rect x="626" y="60" width="1" height="386"/><rect x="647" y="60" width="1" height="386"/>
</g>
<g fill="none" stroke="#000" stroke-width="1" shape-rendering="crispEdges">
<rect x="100.5" y="60.5" width="496" height="385"/>
<rect x="627.5" y="60.5" width="19" height="385"/>
</g>
<g shape-rendering="crispEdges">
<rect x="100" y="446" width="1" height="4" fill="#000"/><rect x="100" y="450" width="1" height="1" fill="#7f7f7f"/><rect x="99" y="446" width="1" height="4" fill="#f1f1f1"/><rect x="101" y="446" width="1" height="4" fill="#f1f1f1"/>
<rect x="162" y="446" width="1" height="4" fill="#000"/><rect x="162" y="450" width="1" height="1" fill="#7f7f7f"/><rect x="161" y="446" width="1" height="4" fill="#f1f1f1"/><rect x="163" y="446" width="1" height="4" fill="#f1f1f1"/>
<rect x="224" y="446" width="1" height="4" fill="#000"/><rect x="224" y="450" width="1" height="1" fill="#7f7f7f"/><rect x="223" y="446" width="1" height="4" fill="#f1f1f1"/><rect x="225" y="446" width="1" height="4" fill="#f1f1f1"/>
<rect x="286" y="446" width="1" height="4" fill="#000"/><rect x="286" y="450" width="1" height="1" fill="#7f7f7f"/><rect x="285" y="446" width="1" height="4" fill="#f1f1f1"/><rect x="287" y="446" width="1" height="4" fill="#f1f1f1"/>
<rect x="348" y="446" width="1" height="4" fill="#000"/><rect x="348" y="450" width="1" height="1" fill="#7f7f7f"/><rect x="347" y="446" width="1" height="4" fill="#f1f1f1"/><rect x="349" y="446" width="1" height="4" fill="#f1f1f1"/>
<rect x="410" y="446" width="1" height="4" fill="#000"/><rect x="410" y="450" width="1" height="1" fill="#7f7f7f"/><rect x="409" y="446" width="1" height="4" fill="#f1f1f1"/><rect x="411" y="446" width="1" height="4" fill="#f1f1f1"/>
<rect x="472" y="446" width="1" height="4" fill="#000"/><rect x="472" y="450" width="1" height="1" fill="#7f7f7f"/><rect x="471" y="446" width="1" height="4" fill="#f1f1f1"/><rect x="473" y="446" width="1" height="4" fill="#f1f1f1"/>
<rect x="534" y="446" width="1" height="4" fill="#000"/><rect x="534" y="450" width="1" height="1" fill="#7f7f7f"/><rect x="533" y="446" width="1" height="4" fill="#f1f1f1"/><rect x="535" y="446" width="1" height="4" fill="#f1f1f1"/>
<rect x="596" y="446" width="1" height="4" fill="#000"/><rect x="596" y="450" width="1" height="1" fill="#7f7f7f"/><rect x="595" y="446" width="1" height="4" fill="#f1f1f1"/><rect x="597" y="446" width="1" height="4" fill="#f1f1f1"/>
<rect x="96" y="103" width="4" height="1" fill="#000"/><rect x="95" y="103" width="1" height="1" fill="#7f7f7f"/><rect x="95" y="102" width="5" height="1" fill="#f1f1f1"/><rect x="95" y="104" width="5" height="1" fill="#f1f1f1"/>
<rect x="96" y="146" width="4" height="1" fill="#000"/><rect x="95" y="146" width="1" height="1" fill="#7f7f7f"/><rect x="95" y="145" width="5" height="1" fill="#f1f1f1"/><rect x="95" y="147" width="5" height="1" fill="#f1f1f1"/>
<rect x="96" y="188" width="4" height="1" fill="#000"/><rect x="95" y="188" width="1" height="1" fill="#7f7f7f"/><rect x="95" y="187" width="5" height="1" fill="#f1f1f1"/><rect x="95" y="189" width="5" height="1" fill="#f1f1f1"/>
<rect x="96" y="231" width="4" height="1" fill="#000"/><rect x="95" y="231" width="1" height="1" fill="#7f7f7f"/><rect x="95" y="230" width="5" height="1" fill="#f1f1f1"/><rect x="95" y="232" width="5" height="1" fill="#f1f1f1"/>
<rect x="96" y="274" width="4" height="1" fill="#000"/><rect x="95" y="274" width="1" height="1" fill="#7f7f7f"/><rect x="95" y="273" width="5" height="1" fill="#f1f1f1"/><rect x="95" y="275" width="5" height="1" fill="#f1f1f1"/>
<rect x="96" y="317" width="4" height="1" fill="#000"/><rect x="95" y="317" width="1" height="1" fill="#7f7f7f"/><rect x="95" y="316" width="5" height="1" fill="#f1f1f1"/><rect x="95" y="318" width="5" height="1" fill="#f1f1f1"/>
<rect x="96" y="359" width="4" height="1" fill="#000"/><rect x="95" y="359" width="1" height="1" fill="#7f7f7f"/><rect x="95" y="358" width="5" height="1" fill="#f1f1f1"/><rect x="95" y="360" width="5" height="1" fill="#f1f1f1"/>
<rect x="96" y="402" width="4" height="1" fill="#000"/><rect x="95" y="402" width="1" height="1" fill="#7f7f7f"/><rect x="95" y="401" width="5" height="1" fill="#f1f1f1"/><rect x="95" y="403" width="5" height="1" fill="#f1f1f1"/>
<rect x="96" y="445" width="4" height="1" fill="#000"/><rect x="95" y="445" width="1" height="1" fill="#7f7f7f"/><rect x="95" y="444" width="5" height="1" fill="#f1f1f1"/><rect x="95" y="446" width="5" height="1" fill="#f1f1f1"/>
<rect x="647" y="60" width="4" height="1" fill="#000"/><rect x="651" y="60" width="1" height="1" fill="#7f7f7f"/><rect x="647" y="59" width="5" height="1" fill="#f1f1f1"/><rect x="647" y="61" width="5" height="1" fill="#f1f1f1"/>
<rect x="647" y="137" width="4" height="1" fill="#000"/><rect x="651" y="137" width="1" height="1" fill="#7f7f7f"/><rect x="647" y="136" width="5" height="1" fill="#f1f1f1"/><rect x="647" y="138" width="5" height="1" fill="#f1f1f1"/>
<rect x="647" y="214" width="4" height="1" fill="#000"/><rect x="651" y="214" width="1" height="1" fill="#7f7f7f"/><rect x="647" y="213" width="5" height="1" fill="#f1f1f1"/><rect x="647" y="215" width="5" height="1" fill="#f1f1f1"/>
<rect x="647" y="291" width="4" height="1" fill="#000"/><rect x="651" y="291" width="1" height="1" fill="#7f7f7f"/><rect x="647" y="290" width="5" height="1" fill="#f1f1f1"/><rect x="647" y="292" width="5" height="1" fill="#f1f1f1"/>
<rect x="647" y="368" width="4" height="1" fill="#000"/><rect x="651" y="368" width="1" height="1" fill="#7f7f7f"/><rect x="647" y="367" width="5" height="1" fill="#f1f1f1"/><rect x="647" y="369" width="5" height="1" fill="#f1f1f1"/>
<rect x="647" y="445" width="4" height="1" fill="#000"/><rect x="651" y="445" width="1" height="1" fill="#7f7f7f"/><rect x="647" y="444" width="5" height="1" fill="#f1f1f1"/><rect x="647" y="446" width="5" height="1" fill="#f1f1f1"/>
</g>
<g style="filter:grayscale(1)">
<g font-size="14">
<text x="100.00" y="465.9" text-anchor="middle">0</text>
<text x="162.00" y="465.9" text-anchor="middle">5</text>
<text x="224.00" y="465.9" text-anchor="middle" textLength="16.4" lengthAdjust="spacingAndGlyphs">10</text>
<text x="286.00" y="465.9" text-anchor="middle" textLength="16.4" lengthAdjust="spacingAndGlyphs">15</text>
<text x="348.00" y="465.9" text-anchor="middle" textLength="16.4" lengthAdjust="spacingAndGlyphs">20</text>
<text x="410.00" y="465.9" text-anchor="middle" textLength="16.4" lengthAdjust="spacingAndGlyphs">25</text>
<text x="472.00" y="465.9" text-anchor="middle" textLength="16.4" lengthAdjust="spacingAndGlyphs">30</text>
<text x="534.00" y="465.9" text-anchor="middle" textLength="16.4" lengthAdjust="spacingAndGlyphs">35</text>
<text x="596.00" y="465.9" text-anchor="middle" textLength="16.4" lengthAdjust="spacingAndGlyphs">40</text>
<text x="89.5" y="449.90" text-anchor="end">0</text>
<text x="89.5" y="407.90" text-anchor="end" textLength="33.50" lengthAdjust="spacingAndGlyphs">1000</text>
<text x="89.5" y="364.90" text-anchor="end" textLength="33.50" lengthAdjust="spacingAndGlyphs">2000</text>
<text x="89.5" y="321.90" text-anchor="end" textLength="33.50" lengthAdjust="spacingAndGlyphs">3000</text>
<text x="89.5" y="278.90" text-anchor="end" textLength="33.50" lengthAdjust="spacingAndGlyphs">4000</text>
<text x="89.5" y="236.90" text-anchor="end" textLength="33.50" lengthAdjust="spacingAndGlyphs">5000</text>
<text x="89.5" y="193.90" text-anchor="end" textLength="33.50" lengthAdjust="spacingAndGlyphs">6000</text>
<text x="89.5" y="150.90" text-anchor="end" textLength="33.50" lengthAdjust="spacingAndGlyphs">7000</text>
<text x="89.5" y="107.90" text-anchor="end" textLength="33.50" lengthAdjust="spacingAndGlyphs">8000</text>
<text x="658" y="449.90" textLength="19.5" lengthAdjust="spacingAndGlyphs">0.0</text>
<text x="658" y="373.90" textLength="19.5" lengthAdjust="spacingAndGlyphs">0.2</text>
<text x="658" y="295.90" textLength="19.5" lengthAdjust="spacingAndGlyphs">0.4</text>
<text x="658" y="219.90" textLength="19.5" lengthAdjust="spacingAndGlyphs">0.6</text>
<text x="658" y="141.90" textLength="19.5" lengthAdjust="spacingAndGlyphs">0.8</text>
<text x="658" y="65.90" textLength="19.5" lengthAdjust="spacingAndGlyphs">1.0</text>
</g>
<text x="267" y="52.3" font-size="17.5" textLength="162" lengthAdjust="spacingAndGlyphs">Sequence coverage</text>
<text x="318.5" y="485" font-size="14" textLength="59.5" lengthAdjust="spacingAndGlyphs">Positions</text>
<text transform="translate(46,290) rotate(-90)" font-size="14" textLength="73.5" lengthAdjust="spacingAndGlyphs">Sequences</text>
<text transform="translate(694,347) rotate(-90)" font-size="14" textLength="187" lengthAdjust="spacingAndGlyphs">Sequence identity to query</text>
</g>
</svg>
</body></html>
